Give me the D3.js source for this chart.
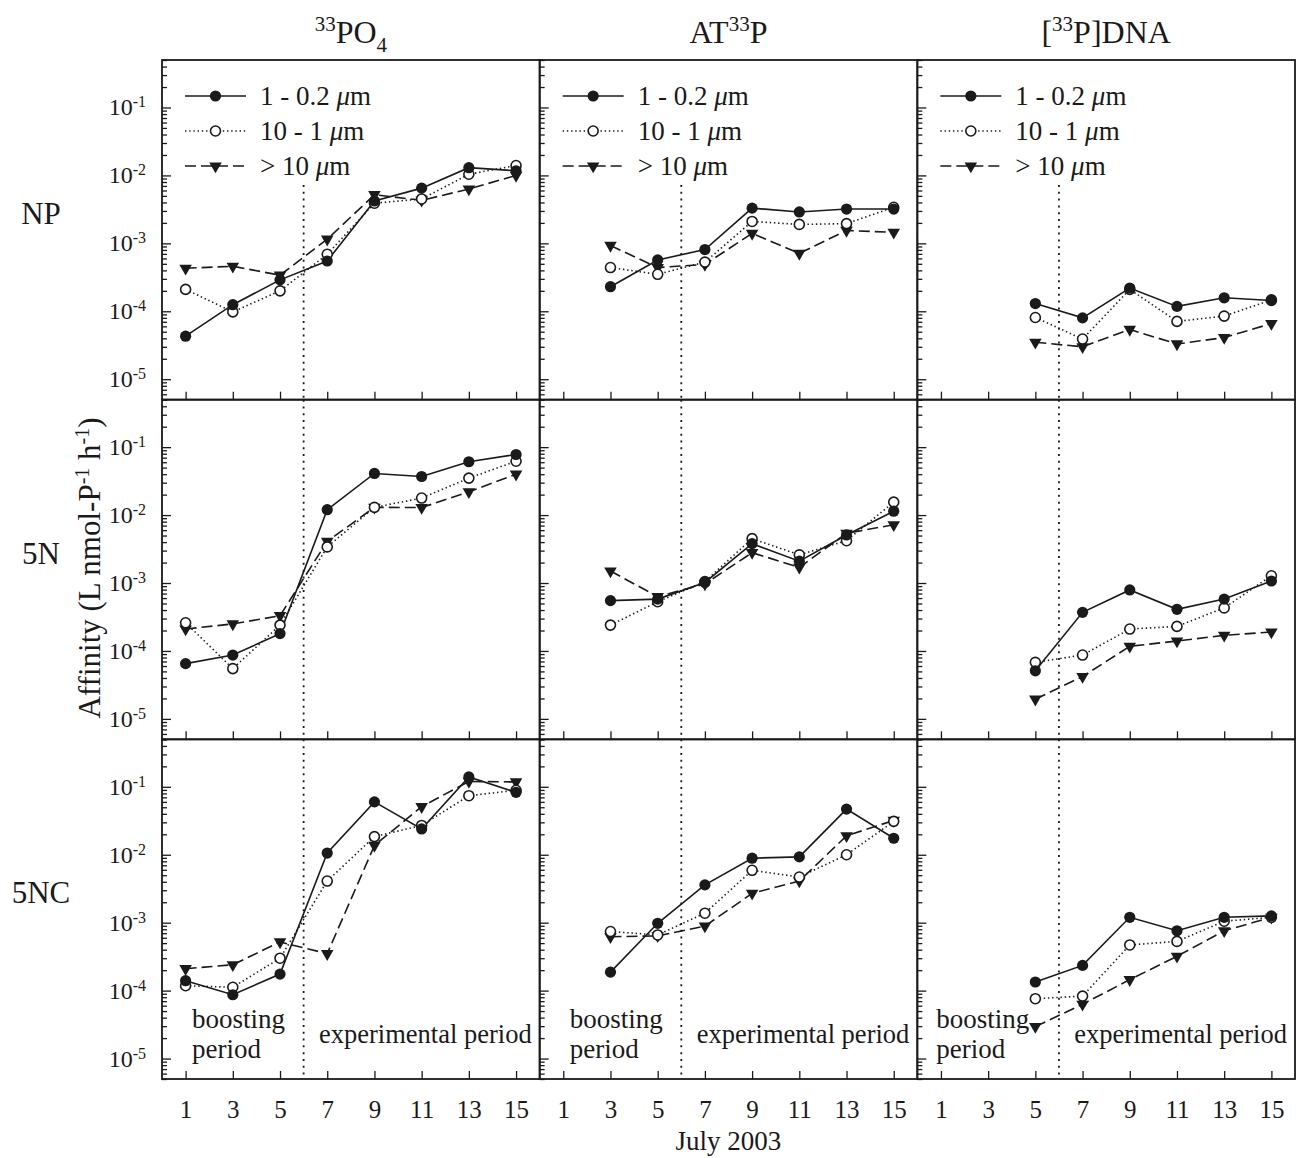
<!DOCTYPE html>
<html>
<head>
<meta charset="utf-8">
<script src="https://cdn.jsdelivr.net/npm/d3@7"></script>
<style>
  body { margin: 0; background: #fff; }
  svg { display: block; font-family: "Liberation Serif", "Times New Roman", serif; }
</style>
</head>
<body>
<div id="chart"></div>
<script>
// sampling days (July 2003)
const days = [1, 3, 5, 7, 9, 11, 13, 15];
const treatments = ["NP", "5N", "5NC"];
const sizeClasses = ["1 - 0.2 ", "10 - 1 ", "> 10 "];
const yMajors = [1e-5, 1e-4, 1e-3, 1e-2, 1e-1];
const yLabelExp = ["-5", "-4", "-3", "-2", "-1"];

// each panel: [1-0.2 µm, 10-1 µm, >10 µm], one value per day (null = not measured)
const po4NP = [
  [4.3e-5, 1.25e-4, 2.9e-4, 5.5e-4, 4.2e-3, 6.5e-3, 1.3e-2, 1.17e-2],
  [2.1e-4, 9.8e-5, 2.0e-4, 6.9e-4, 3.9e-3, 4.5e-3, 1.04e-2, 1.4e-2],
  [4.3e-4, 4.6e-4, 3.4e-4, 1.15e-3, 5.2e-3, 4.3e-3, 6.3e-3, 1.0e-2]
];
const atpNP = [
  [null, 2.3e-4, 5.7e-4, 8.1e-4, 3.3e-3, 2.9e-3, 3.2e-3, 3.2e-3],
  [null, 4.4e-4, 3.5e-4, 5.3e-4, 2.1e-3, 1.9e-3, 1.95e-3, 3.4e-3],
  [null, 9.3e-4, 4.4e-4, 4.9e-4, 1.4e-3, 7.1e-4, 1.55e-3, 1.45e-3]
];
const dnaNP = [
  [null, null, 1.3e-4, 8.0e-5, 2.2e-4, 1.18e-4, 1.58e-4, 1.44e-4],
  [null, null, 8.1e-5, 3.9e-5, 2.1e-4, 7.1e-5, 8.5e-5, 1.47e-4],
  [null, null, 3.5e-5, 3.0e-5, 5.4e-5, 3.3e-5, 4.1e-5, 6.6e-5]
];
const po45N = [
  [6.5e-5, 8.7e-5, 1.8e-4, 1.2e-2, 4.1e-2, 3.7e-2, 6.1e-2, 7.8e-2],
  [2.6e-4, 5.5e-5, 2.4e-4, 3.4e-3, 1.3e-2, 1.78e-2, 3.5e-2, 6.2e-2],
  [2.1e-4, 2.5e-4, 3.3e-4, 4.1e-3, 1.3e-2, 1.29e-2, 2.2e-2, 4.0e-2]
];
const atp5N = [
  [null, 5.5e-4, 5.8e-4, 1.02e-3, 3.8e-3, 2.1e-3, 5.1e-3, 1.14e-2],
  [null, 2.4e-4, 5.3e-4, 1.05e-3, 4.5e-3, 2.6e-3, 4.2e-3, 1.55e-2],
  [null, 1.5e-3, 6.3e-4, 9.7e-4, 2.8e-3, 1.7e-3, 5.4e-3, 7.2e-3]
];
const dna5N = [
  [null, null, 5.1e-5, 3.7e-4, 7.9e-4, 4.1e-4, 5.8e-4, 1.07e-3],
  [null, null, 6.8e-5, 8.7e-5, 2.1e-4, 2.3e-4, 4.3e-4, 1.28e-3],
  [null, null, 1.95e-5, 4.2e-5, 1.17e-4, 1.4e-4, 1.7e-4, 1.9e-4]
];
const po45NC = [
  [1.4e-4, 8.7e-5, 1.75e-4, 1.06e-2, 6.0e-2, 2.4e-2, 0.14, 8.3e-2],
  [1.18e-4, 1.12e-4, 3.0e-4, 4.1e-3, 1.85e-2, 2.7e-2, 7.4e-2, 8.9e-2],
  [2.1e-4, 2.4e-4, 5.2e-4, 3.5e-4, 1.37e-2, 5.1e-2, 0.12, 0.118]
];
const atp5NC = [
  [null, 1.87e-4, 9.8e-4, 3.6e-3, 8.9e-3, 9.3e-3, 4.7e-2, 1.75e-2],
  [null, 7.4e-4, 6.6e-4, 1.38e-3, 5.9e-3, 4.7e-3, 1.0e-2, 3.1e-2],
  [null, 6.2e-4, 6.4e-4, 8.9e-4, 2.7e-3, 4.1e-3, 1.9e-2, 3.2e-2]
];
const dna5NC = [
  [null, null, 1.34e-4, 2.35e-4, 1.2e-3, 7.6e-4, 1.2e-3, 1.26e-3],
  [null, null, 7.6e-5, 8.3e-5, 4.7e-4, 5.3e-4, 1.05e-3, 1.2e-3],
  [null, null, 2.95e-5, 6.3e-5, 1.45e-4, 3.2e-4, 7.6e-4, 1.2e-3]
];

const panels = [
  [po4NP, atpNP, dnaNP],
  [po45N, atp5N, dna5N],
  [po45NC, atp5NC, dna5NC]
];

// column titles, pieces with super/subscripts
const titles = [
  [["33", "sup"], ["PO", ""], ["4", "sub"]],
  [["AT", ""], ["33", "sup"], ["P", ""]],
  [["[", ""], ["33", "sup"], ["P]DNA", ""]]
];

const ink = "#1a1a1a";
const W = 1296, H = 1158;
const x0 = 162, y0 = 60;
const pw = (1295 - 162) / 3;
const ph = (1079 - 60) / 3;

const svg = d3.select("#chart").append("svg")
  .attr("width", W).attr("height", H);

const x = d3.scaleLinear().domain([0, 16]).range([0, pw]);
const y = d3.scaleLog().domain([5e-6, 0.5]).range([ph, 0]);

const minors = y.ticks().filter(t => !yMajors.some(m => Math.abs(m - t) / m < 1e-6));

const styles = [
  { dash: null, marker: "filled" },
  { dash: "1.4,2.8", marker: "open" },
  { dash: "11,5", marker: "tri" }
];

const line = d3.line()
  .defined(d => d.v != null)
  .x(d => x(d.day))
  .y(d => y(d.v));

const tri = d3.symbol().type(d3.symbolTriangle).size(68);

function drawMarker(g, kind, cx, cy) {
  if (kind === "filled") {
    g.append("circle").attr("cx", cx).attr("cy", cy).attr("r", 5.6).attr("fill", ink);
  } else if (kind === "open") {
    g.append("circle").attr("cx", cx).attr("cy", cy).attr("r", 5)
      .attr("fill", "#fff").attr("stroke", ink).attr("stroke-width", 1.6);
  } else {
    g.append("path").attr("d", tri())
      .attr("transform", `translate(${cx},${cy}) rotate(180)`)
      .attr("fill", ink);
  }
}

function addScript(text, parts, size, supSize) {
  let cur = 0;
  parts.forEach(([s, kind]) => {
    const target = kind === "sup" ? -size * 0.38 : kind === "sub" ? size * 0.27 : 0;
    text.append("tspan")
      .attr("dy", target - cur)
      .attr("font-size", kind ? supSize : size)
      .text(s);
    cur = target;
  });
}

panels.forEach((row, ri) => {
  row.forEach((series, ci) => {
    const g = svg.append("g")
      .attr("transform", `translate(${x0 + ci * pw},${y0 + ri * ph})`);

    // y ticks (inward)
    const yMinor = g.append("g")
      .call(d3.axisLeft(y).tickValues(minors).tickSize(-5).tickFormat(""));
    const yMajor = g.append("g")
      .call(d3.axisLeft(y).tickValues(yMajors).tickSize(-9).tickFormat(""));
    // x ticks (inward)
    const xAx = d3.axisBottom(x).tickValues(days).tickSize(-8).tickPadding(21)
      .tickFormat(ri === 2 ? d3.format("d") : "");
    const xg = g.append("g").attr("transform", `translate(0,${ph})`).call(xAx);

    [yMinor, yMajor, xg].forEach(a => {
      a.select(".domain").remove();
      a.selectAll("line").attr("stroke", ink).attr("stroke-width", 1.3);
    });
    xg.selectAll("text")
      .attr("font-family", "Liberation Serif, Times New Roman, serif")
      .attr("font-size", 25).attr("fill", ink);

    // y labels on first column
    if (ci === 0) {
      yMajors.forEach((v, i) => {
        const t = g.append("text")
          .attr("x", -16).attr("y", y(v) + 8)
          .attr("text-anchor", "end")
          .attr("fill", ink).attr("font-size", 24);
        t.append("tspan").text("10");
        t.append("tspan").attr("dy", -8).attr("font-size", 16).text(yLabelExp[i]);
      });
    }

    // dotted separator between boosting and experimental period
    g.append("line")
      .attr("x1", x(6)).attr("x2", x(6))
      .attr("y1", ri === 0 ? 125 : 0).attr("y2", ph)
      .attr("stroke", ink).attr("stroke-width", 1.8)
      .attr("stroke-dasharray", "2,4.8");

    // series lines
    const seriesPts = series.map(vals => days.map((day, i) => ({ day, v: vals[i] })));
    seriesPts.forEach((pts, si) => {
      g.append("path")
        .datum(pts)
        .attr("d", line)
        .attr("fill", "none")
        .attr("stroke", ink)
        .attr("stroke-width", 1.6)
        .attr("stroke-dasharray", styles[si].dash);
    });
    // markers
    [2, 1, 0].forEach(si => {
      seriesPts[si].filter(d => d.v != null).forEach(d => {
        drawMarker(g, styles[si].marker, x(d.day), y(d.v));
      });
    });

    // frame
    g.append("rect")
      .attr("width", pw).attr("height", ph)
      .attr("fill", "none").attr("stroke", ink).attr("stroke-width", 1.8);

    // legend in top row
    if (ri === 0) {
      sizeClasses.forEach((lab, si) => {
        const ly = 36 + si * 35;
        g.append("line")
          .attr("x1", 23).attr("x2", 84).attr("y1", ly).attr("y2", ly)
          .attr("stroke", ink).attr("stroke-width", 1.5)
          .attr("stroke-dasharray", styles[si].dash);
        drawMarker(g, styles[si].marker, 53.5, ly);
        const t = g.append("text")
          .attr("x", 98).attr("y", ly + 9)
          .attr("font-size", 27).attr("fill", ink);
        t.append("tspan").text(lab);
        t.append("tspan").attr("font-style", "italic").text("\u03bc");
        t.append("tspan").text("m");
      });
    }

    // period annotations in bottom row
    if (ri === 2) {
      const bx = ci === 2 ? 19 : 30;
      g.append("text").attr("x", bx).attr("y", 289)
        .attr("font-size", 27).attr("fill", ink).text("boosting");
      g.append("text").attr("x", bx).attr("y", 319)
        .attr("font-size", 27).attr("fill", ink).text("period");
      g.append("text").attr("x", 157).attr("y", 304)
        .attr("font-size", 26.5).attr("fill", ink).text("experimental period");
    }
  });
});

// column titles
titles.forEach((parts, ci) => {
  const t = svg.append("text")
    .attr("x", x0 + ci * pw + pw / 2).attr("y", 43)
    .attr("text-anchor", "middle").attr("fill", ink);
  addScript(t, parts, 32, 21);
});

// row labels
treatments.forEach((name, ri) => {
  svg.append("text")
    .attr("x", 41).attr("y", y0 + ri * ph + ph / 2 - 6)
    .attr("text-anchor", "middle")
    .attr("font-size", 31).attr("fill", ink)
    .text(name);
});

// y axis title
const yt = svg.append("text")
  .attr("transform", "translate(100,568) rotate(-90)")
  .attr("text-anchor", "middle")
  .attr("font-size", 31).attr("fill", ink);
yt.append("tspan").text("Affinity (L nmol-P");
yt.append("tspan").attr("dy", -11).attr("font-size", 20).text("-1");
yt.append("tspan").attr("dy", 11).text(" h");
yt.append("tspan").attr("dy", -11).attr("font-size", 20).text("-1");
yt.append("tspan").attr("dy", 11).text(")");

// x axis title
svg.append("text")
  .attr("x", x0 + 1.5 * pw).attr("y", 1150)
  .attr("text-anchor", "middle")
  .attr("font-size", 27).attr("fill", ink)
  .text("July 2003");
</script>
</body>
</html>
